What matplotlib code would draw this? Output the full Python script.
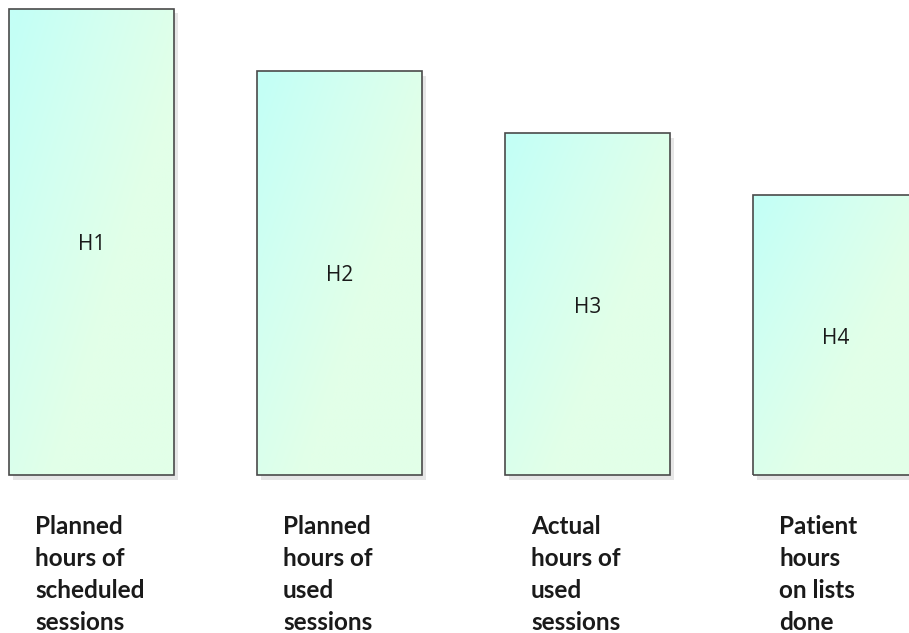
import numpy as np
import matplotlib
matplotlib.use("Agg")
from matplotlib import pyplot as plt
from matplotlib.patches import Rectangle
from matplotlib.colors import LinearSegmentedColormap

# data
inner_labels = ["H1", "H2", "H3", "H4"]
heights = [7.5, 6.5, 5.5, 4.5]
categories = [
    "Planned\nhours of\nscheduled\nsessions",
    "Planned\nhours of\nused\nsessions",
    "Actual\nhours of\nused\nsessions",
    "Patient\nhours\non lists\ndone",
]

BAR_W = 0.665
grad = LinearSegmentedColormap.from_list("g", ["#c4fff6", "#d4fff0", "#e2ffe8"])

fig = plt.figure(figsize=(9.09, 6.33), dpi=100)
ax = fig.add_axes([0, 0, 1, 1])
ax.set_xlim(-0.369, 3.296)
ax.set_ylim(-2.54, 7.637)
ax.axis("off")

# gradient image, top-left cyan -> bottom-right light green
xn = np.linspace(0, 1, 60)
yn = np.linspace(0, 1, 120)
X, Y = np.meshgrid(xn, yn)
T = np.clip(0.9 * X + 0.8 * Y - 0.05, 0, 1)

for i, h in enumerate(heights):
    left = i - BAR_W / 2
    # drop shadow
    ax.add_patch(Rectangle((left + 0.017, -0.08), BAR_W, h,
                           facecolor="#e6e6e6", edgecolor="none", zorder=1))
    rect = Rectangle((left, 0), BAR_W, h, facecolor="none",
                     edgecolor="#4a4a4a", linewidth=1.2, zorder=3)
    ax.add_patch(rect)
    im = ax.imshow(T, cmap=grad, extent=(left, left + BAR_W, h, 0),
                   origin="lower", aspect="auto", zorder=2,
                   interpolation="bilinear")
    im.set_clip_path(rect)
    ax.text(i, h / 2 - 0.05, inner_labels[i], ha="center", va="center",
            fontsize=15, family=["Open Sans", "DejaVu Sans"],
            color="#1a1a1a", zorder=4)
    ax.text(left + 26 / 248, -0.64, categories[i], ha="left", va="top",
            fontsize=17.5, fontweight="bold", linespacing=1.47,
            family=["Lato", "DejaVu Sans"], color="#1a1a1a")

fig.savefig("out.png", dpi=100)
